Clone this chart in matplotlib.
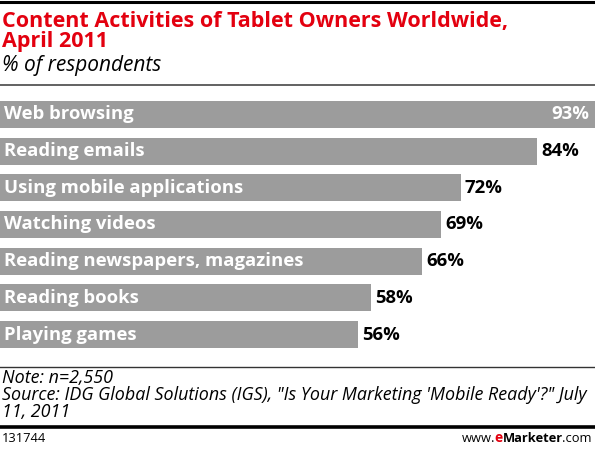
import matplotlib
matplotlib.use("Agg")
import matplotlib.pyplot as plt
from matplotlib.lines import Line2D

W, H = 595, 450

categories = ["Web browsing", "Reading emails", "Using mobile applications",
              "Watching videos", "Reading newspapers, magazines",
              "Reading books", "Playing games"]
values = [93, 84, 72, 69, 66, 58, 56]

title = "Content Activities of Tablet Owners Worldwide,\nApril 2011"
subtitle = "% of respondents"
note = "Note: n=2,550"
source = ("Source: IDG Global Solutions (IGS), \"Is Your Marketing 'Mobile Ready'?\" July\n"
          "11, 2011")
chart_id = "131744"

FONT = "Open Sans"
BAR = "#9c9c9c"
RED = "#e3000f"


def fy(py):
    return 1 - py / H


def fx(px):
    return px / W


fig = plt.figure(figsize=(W / 100, H / 100), dpi=100)
fig.patch.set_facecolor("white")

# horizontal rules
for y, lw, col in [(1.5, 2.2, "black"), (85, 1.3, "#555555"),
                   (367, 1.0, "#333333"), (427, 2.6, "black")]:
    fig.add_artist(Line2D([0, 1], [fy(y), fy(y)], color=col, lw=lw,
                          transform=fig.transFigure))

fig.text(fx(2), fy(11), title, ha="left", va="top", color=RED,
         fontsize=15.45, fontweight="bold", family=FONT, linespacing=0.95)
fig.text(fx(2), fy(55), subtitle, ha="left", va="top", color="black",
         fontsize=15, style="italic", family=FONT)

# bars
bar_h = 0.736
ax = fig.add_axes([0, fy(348), 1, (348 - 101) / H])
ax.barh(range(len(values)), values, height=bar_h, color=BAR, linewidth=0)
ax.set_xlim(0, 93)
ax.set_ylim(len(values) - 1 + bar_h / 2, -bar_h / 2)
ax.axis("off")

for i, (c, v) in enumerate(zip(categories, values)):
    ax.text(0.6, i, c, ha="left", va="center", color="white",
            fontsize=13.3, fontweight="bold", family=FONT)
    if v == max(values):
        ax.text(v - 0.9, i, f"{v}%", ha="right", va="center", color="white",
                fontsize=13.3, fontweight="bold", family=FONT)
    else:
        ax.text(v + 0.6, i, f"{v}%", ha="left", va="center", color="black",
                fontsize=13.3, fontweight="bold", family=FONT)

fig.text(fx(2), fy(369), note, ha="left", va="top", fontsize=12.9,
         style="italic", family=FONT)
fig.text(fx(2), fy(386), source, ha="left", va="top", fontsize=12.9,
         style="italic", family=FONT, linespacing=0.96)

fig.text(fx(2), fy(438), chart_id, ha="left", va="center", fontsize=9.3,
         family=FONT)

# www.eMarketer.com, chained left to right then shifted to the right edge
fig.canvas.draw()
r = fig.canvas.get_renderer()
x = 0
parts = []
for s, kw in [("www.", {}), ("e", {"fontweight": "bold", "color": RED, "fontsize": 10}),
              ("Marketer", {"fontweight": "bold"}), (".com", {})]:
    opts = {"fontsize": 9.3, "family": FONT, "color": "black"}
    opts.update(kw)
    t = fig.text(x / W, fy(438), s, ha="left", va="center", **opts)
    parts.append((t, x))
    x = t.get_window_extent(r).x1 - 0.5
shift = 591 - x
for t, x0 in parts:
    t.set_x((x0 + shift) / W)

fig.savefig("out.png", dpi=100)
